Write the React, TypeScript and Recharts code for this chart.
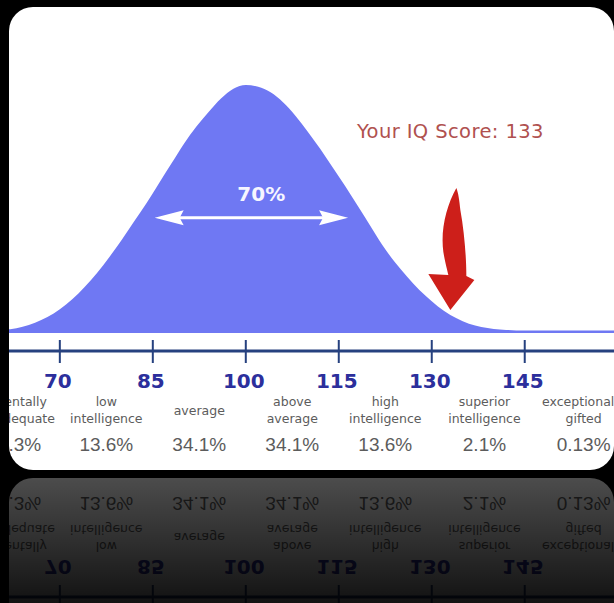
import { ComposedChart, Area, XAxis, YAxis, ReferenceLine, ReferenceDot } from 'recharts';

// IQ score (x) and height of the bell curve as % of its peak (y)
const IQ_POINTS = [60, 62, 64, 66, 68, 70, 72, 74, 76, 78, 80, 82, 84, 86, 88, 90, 92, 94, 96, 98, 100,
  102, 104, 106, 108, 110, 112, 114, 116, 118, 120, 122, 124, 126, 128, 130, 132, 134, 136, 138, 140, 142, 145, 150, 160];
const CURVE_HEIGHT = [0, 0.6, 1.6, 3.2, 5.5, 8.7, 12.8, 17.8, 23.5, 30, 37, 44.5, 52, 60, 68, 76, 83, 89, 94.5, 98.5, 100,
  99.3, 97, 93, 87.5, 81, 74, 66.5, 59, 51, 43, 35, 28, 22, 16.5, 12, 8, 5, 2.8, 1.5, 0.7, 0.3, 0, 0, 0];

const SCORE_TICKS = [70, 85, 100, 115, 130, 145];

// the seven bands written under the axis
const BAND_CENTERS = [63.5, 77.5, 92.5, 107.5, 122.5, 138.5, 154.5];
const BAND_LINE1 = ['mentally', 'low', 'average', 'above', 'high', 'superior', 'exceptionally'];
const BAND_LINE2 = ['inadequate', 'intelligence', '', 'average', 'intelligence', 'intelligence', 'gifted'];
const BAND_SHARES = ['2.3%', '13.6%', '34.1%', '34.1%', '13.6%', '2.1%', '0.13%'];

const MIDDLE_RANGE = [85.3, 116.5];
const MIDDLE_SHARE = '70%';
const YOUR_SCORE = 133;

const curveData = IQ_POINTS.map((iq, i) => ({ iq, height: CURVE_HEIGHT[i] }));

const X_DOMAIN: [number, number] = [61.8, 159.4];
const BLUE_FILL = '#6f78f3';
const AXIS_BLUE = '#26417f';
const TICK_TEXT = '#2c2f9c';
const BAND_TEXT = '#5c5c5c';

function ScoreTick({ x, y, payload }: any) {
  return (
    <g>
      <line x1={x} x2={x} y1={y - 11} y2={y + 12} stroke={AXIS_BLUE} strokeWidth={2} />
      <text
        x={x - 2}
        y={y + 37}
        textAnchor="middle"
        fill={TICK_TEXT}
        style={{ fontFamily: 'DejaVu Sans', fontWeight: 700, fontSize: 20 }}
      >
        {payload.value}
      </text>
    </g>
  );
}

function BandTick({ x, y, index }: any) {
  const l1 = BAND_LINE1[index];
  const l2 = BAND_LINE2[index];
  const small = { fontFamily: 'DejaVu Sans', fontSize: 12.5 };
  return (
    <g fill={BAND_TEXT}>
      {l2 ? (
        <>
          <text x={x} y={y + 31} textAnchor="middle" style={small}>{l1}</text>
          <text x={x} y={y + 48} textAnchor="middle" style={small}>{l2}</text>
        </>
      ) : (
        <text x={x} y={y + 40} textAnchor="middle" style={small}>{l1}</text>
      )}
      <text
        x={x}
        y={y + 76}
        textAnchor="middle"
        style={{ fontFamily: 'Liberation Sans', fontSize: 19 }}
      >
        {BAND_SHARES[index]}
      </text>
    </g>
  );
}

function DoubleArrow(props: any) {
  const { x1, x2, y1 } = props;
  const y = y1;
  return (
    <g fill="#ffffff" stroke="none">
      <line x1={x1 + 20} x2={x2 - 20} y1={y} y2={y} stroke="#ffffff" strokeWidth={3} />
      <path d={`M${x1},${y} L${x1 + 29},${y - 7.5} L${x1 + 25},${y} L${x1 + 29},${y + 7.5} Z`} />
      <path d={`M${x2},${y} L${x2 - 29},${y - 7.5} L${x2 - 25},${y} L${x2 - 29},${y + 7.5} Z`} />
    </g>
  );
}

function ShareLabel({ cx, cy }: any) {
  return (
    <text
      x={cx}
      y={cy}
      textAnchor="middle"
      dominantBaseline="central"
      fill="#f6f6ff"
      style={{ fontFamily: 'DejaVu Sans', fontWeight: 700, fontSize: 20 }}
    >
      {MIDDLE_SHARE}
    </text>
  );
}

function ScoreLabel({ cx, cy }: any) {
  return (
    <text
      x={cx}
      y={cy}
      textAnchor="middle"
      dominantBaseline="central"
      fill="#b0514f"
      style={{ fontFamily: 'DejaVu Sans', fontSize: 19.5, letterSpacing: 0.4 }}
    >
      {`Your IQ Score: ${YOUR_SCORE}`}
    </text>
  );
}

function RedArrow({ cx, cy }: any) {
  const p = (dx: number, dy: number) => `${cx + dx},${cy + dy}`;
  const d = [
    `M${p(6, -122)}`,
    `C${p(-4, -104)} ${p(-10, -80)} ${p(-7, -58)}`,
    `C${p(-5, -46)} ${p(-3, -40)} ${p(-2, -35)}`,
    `L${p(-22, -36)}`,
    `L${p(0, 0)}`,
    `L${p(24, -30)}`,
    `L${p(16, -34)}`,
    `C${p(16, -52)} ${p(14, -78)} ${p(10, -100)}`,
    `C${p(9, -110)} ${p(8, -117)} ${p(6, -122)}`,
    'Z',
  ].join(' ');
  return <path d={d} fill="#cd1f1a" />;
}

function IQChart() {
  return (
    <ComposedChart width={605} height={463} data={curveData} margin={{ top: 78, right: 0, bottom: 0, left: 0 }}>
      <XAxis
        dataKey="iq"
        type="number"
        domain={X_DOMAIN}
        allowDataOverflow
        ticks={SCORE_TICKS}
        interval={0}
        height={24}
        axisLine={{ stroke: AXIS_BLUE, strokeWidth: 3 }}
        tickLine={false}
        tickSize={0}
        tickMargin={0}
        tick={<ScoreTick />}
      />
      <XAxis
        xAxisId="band"
        dataKey="iq"
        type="number"
        domain={X_DOMAIN}
        allowDataOverflow
        ticks={BAND_CENTERS}
        interval={0}
        height={95}
        axisLine={false}
        tickLine={false}
        tickSize={0}
        tickMargin={0}
        tick={<BandTick />}
      />
      <YAxis hide domain={[-8.3, 100]} allowDataOverflow />
      <Area
        type="monotone"
        dataKey="height"
        baseValue={-1}
        stroke="none"
        fill={BLUE_FILL}
        fillOpacity={1}
        isAnimationActive={false}
        dot={false}
        activeDot={false}
      />
      <ReferenceLine
        segment={[{ x: MIDDLE_RANGE[0], y: 46 }, { x: MIDDLE_RANGE[1], y: 46 }]}
        shape={<DoubleArrow />}
        ifOverflow="visible"
      />
      <ReferenceDot x={102.5} y={55.5} r={0} shape={<ShareLabel />} ifOverflow="visible" />
      <ReferenceDot x={YOUR_SCORE} y={81} r={0} shape={<ScoreLabel />} ifOverflow="visible" />
      <ReferenceDot x={YOUR_SCORE} y={8.4} r={0} shape={<RedArrow />} ifOverflow="visible" />
    </ComposedChart>
  );
}

export default function App() {
  const card = {
    position: 'absolute' as const,
    left: 9,
    width: 605,
    height: 463,
    background: '#ffffff',
    borderRadius: 24,
    overflow: 'hidden',
  };
  return (
    <div style={{ position: 'fixed', left: 0, top: 0, width: 614, height: 603, background: '#000', overflow: 'hidden' }}>
      <div style={{ ...card, top: 7 }}>
        <IQChart />
      </div>
      {/* mirrored reflection under the card */}
      <div style={{ position: 'absolute', left: 0, top: 478, width: 614, height: 125, overflow: 'hidden' }}>
        <div style={{ ...card, top: 0, transform: 'scaleY(-1)' }}>
          <IQChart />
        </div>
        <div
          style={{
            position: 'absolute',
            inset: 0,
            background: 'linear-gradient(to bottom, rgba(0,0,0,0.7), rgba(0,0,0,0.93))',
          }}
        />
      </div>
    </div>
  );
}
